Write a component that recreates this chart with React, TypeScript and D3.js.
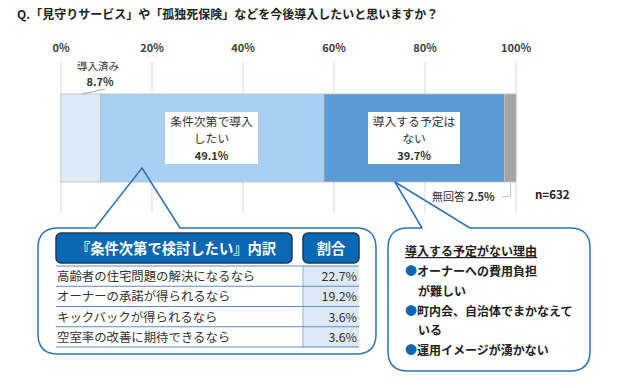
import React from 'react';
import * as d3 from 'd3';

const categories = ['導入済み', '条件次第で導入したい', '導入する予定はない', '無回答'];
const shares = [8.7, 49.1, 39.7, 2.5];
const tickValues = [0, 20, 40, 60, 80, 100];

const breakdownItems = [
    '高齢者の住宅問題の解決になるなら',
    'オーナーの承諾が得られるなら',
    'キックバックが得られるなら',
    '空室率の改善に期待できるなら',
];
const breakdownShares = [22.7, 19.2, 3.6, 3.6];

const reasonLines = [
    { text: 'オーナーへの費用負担', bullet: true },
    { text: 'が難しい', bullet: false },
    { text: '町内会、自治体でまかなえて', bullet: true },
    { text: 'いる', bullet: false },
    { text: '運用イメージが湧かない', bullet: true },
];

const colors = ['#ddeaf8', '#a9d0f3', '#5b9bd5', '#a5a5a5'];
const font = '"Noto Sans CJK JP", sans-serif';

function App() {
    const x = d3.scaleLinear().domain([0, 100]).range([61, 516]);
    const barTop = 94;
    const barBottom = 182;

    let acc = 0;
    const segs = shares.map((v, i) => {
        const s = { name: categories[i], v, x0: x(acc), x1: x(acc + v) };
        acc += v;
        return s;
    });

    const rowY = d3.scaleBand()
        .domain(breakdownItems)
        .range([266, 347]);

    // callout outlines, with the pointer cut into the top edge
    const r = 20;
    const leftBox = `M${38},${228 + r} Q38,228 ${38 + r},228 L95,228 L142,168 L180,228 L${376 - r},228 Q376,228 376,${228 + r} L376,${354 - r} Q376,354 ${376 - r},354 L${38 + r},354 Q38,354 38,${354 - r} Z`;
    const rightBox = `M388,${228 + r} Q388,228 ${388 + r},228 L422,228 L395,182 L470,228 L${590 - r},228 Q590,228 590,${228 + r} L590,${371 - r} Q590,371 ${590 - r},371 L${388 + r},371 Q388,371 388,${371 - r} Z`;

    return (
        <svg width={618} height={388} style={{ position: 'absolute', left: 0, top: 0 }} fontFamily={font}>
            <rect width={618} height={388} fill="#fff" />
            <text x={17} y={19} fontSize={12} fontWeight="bold" fill="#222">
                Q.「見守りサービス」や「孤独死保険」などを今後導入したいと思いますか？
            </text>

            {tickValues.map(t => (
                <g key={t}>
                    <line x1={x(t)} x2={x(t)} y1={62} y2={213} stroke="#d9d9d9" />
                    <text x={x(t)} y={52} textAnchor="middle" fontSize={11} fontWeight="bold" fill="#404040">{t}%</text>
                </g>
            ))}

            {segs.map((s, i) => (
                <rect key={s.name} x={s.x0} y={barTop} width={s.x1 - s.x0} height={barBottom - barTop}
                    fill={colors[i]} stroke="#bfbfbf" strokeWidth={0.8} />
            ))}

            {/* 導入済み */}
            <text x={98} y={70} textAnchor="middle" fontSize={10.5} fill="#333">{categories[0]}</text>
            <text x={100} y={86} textAnchor="middle" fontSize={11} fontWeight="bold" fill="#333">{shares[0]}%</text>
            <line x1={82} y1={94} x2={105} y2={89} stroke="#a6a6a6" />

            {/* 条件次第で導入したい */}
            <rect x={165} y={112} width={93} height={52} fill="#fff" />
            <text x={211.5} y={126} textAnchor="middle" fontSize={11.8} fill="#333">条件次第で導入</text>
            <text x={211.5} y={143} textAnchor="middle" fontSize={11.8} fill="#333">したい</text>
            <text x={211.5} y={160} textAnchor="middle" fontSize={11} fontWeight="bold" fill="#333">{shares[1]}%</text>

            {/* 導入する予定はない */}
            <rect x={368} y={112} width={92} height={52} fill="#fff" />
            <text x={414} y={126} textAnchor="middle" fontSize={11.8} fill="#333">導入する予定は</text>
            <text x={414} y={143} textAnchor="middle" fontSize={11.8} fill="#333">ない</text>
            <text x={414} y={160} textAnchor="middle" fontSize={11} fontWeight="bold" fill="#333">{shares[2]}%</text>

            {/* 無回答 */}
            <text x={432} y={201} fontSize={11} fill="#333">{categories[3]} <tspan fontWeight="bold">{shares[3]}%</tspan></text>
            <polyline points={`${x(98.8)},183 ${x(98.8)},196 502,197`} fill="none" stroke="#bfbfbf" />
            <text x={535} y={199} fontSize={11.5} fontWeight="bold" fill="#222">n=632</text>

            {/* left callout */}
            <path d={leftBox} fill="none" stroke="#2e75b6" strokeWidth={1.5} strokeLinejoin="round" />
            <rect x={56} y={233} width={236} height={30} rx={5} fill="#0a67b2" stroke="#1c3a57" strokeWidth={1.5} />
            <text x={176} y={254} textAnchor="middle" fontSize={14.3} fontWeight="bold" fill="#fff">『条件次第で検討したい』内訳</text>
            <rect x={303} y={233} width={56} height={30} rx={5} fill="#0a67b2" stroke="#1c3a57" strokeWidth={1.5} />
            <text x={331} y={254} textAnchor="middle" fontSize={14.3} fontWeight="bold" fill="#fff">割合</text>
            <rect x={303} y={266} width={56} height={81} fill="#dde9f6" />
            <line x1={303} x2={303} y1={266} y2={347} stroke="#8db3dc" />
            {breakdownItems.map((item, i) => (
                <g key={item}>
                    <line x1={56} x2={359} y1={rowY(item)!} y2={rowY(item)!} stroke="#5b8fc7" />
                    <text x={57} y={rowY(item)! + 15} fontSize={12.4} fill="#333">{item}</text>
                    <text x={357} y={rowY(item)! + 15} textAnchor="end" fontSize={12.4} fill="#333">{breakdownShares[i]}%</text>
                </g>
            ))}
            <line x1={56} x2={359} y1={347} y2={347} stroke="#5b8fc7" />

            {/* right callout */}
            <path d={rightBox} fill="none" stroke="#2e75b6" strokeWidth={1.5} strokeLinejoin="round" />
            <text x={405} y={256} fontSize={12} fontWeight="bold" fill="#222" textDecoration="underline">導入する予定がない理由</text>
            {reasonLines.map((l, i) => (
                <text key={i} x={l.bullet ? 405 : 418} y={276 + i * 19.8} fontSize={12} fontWeight="bold" fill="#222">
                    {l.bullet && <tspan fill="#0a67b2">●</tspan>}{l.text}
                </text>
            ))}
        </svg>
    );
}

export default App;
